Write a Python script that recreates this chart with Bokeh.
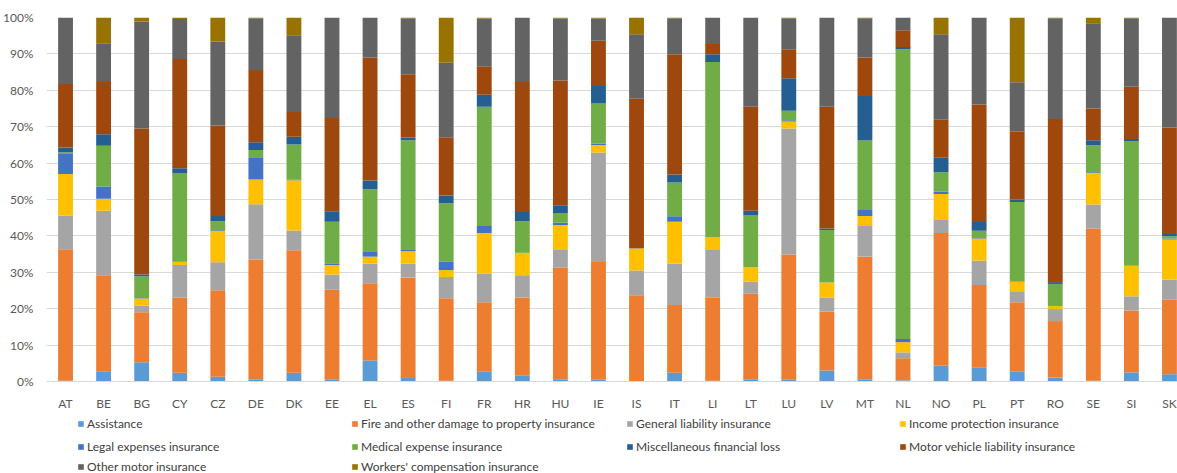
from bokeh.plotting import figure
from bokeh.models import (ColumnDataSource, Range1d, FixedTicker, NumeralTickFormatter,
                          Legend, LegendItem)
from bokeh.embed import file_html
from bokeh.resources import INLINE

countries = ["AT", "BE", "BG", "CY", "CZ", "DE", "DK", "EE", "EL", "ES", "FI", "FR", "HR", "HU", "IE",
             "IS", "IT", "LI", "LT", "LU", "LV", "MT", "NL", "NO", "PL", "PT", "RO", "SE", "SI", "SK"]

series_names = ["Assistance", "Fire and other damage to property insurance", "General liability insurance",
                "Income protection insurance", "Legal expenses insurance", "Medical expense insurance",
                "Miscellaneous financial loss", "Motor vehicle liability insurance", "Other motor insurance",
                "Workers' compensation insurance"]

assistance = [0.2, 2.8, 5.3, 2.4, 1.3, 0.5, 2.4, 0.5, 5.8, 1.2, 0.2, 2.7, 1.6, 0.5, 0.6,
              0.0, 2.4, 0.2, 0.5, 0.5, 3.0, 0.5, 0.3, 4.3, 3.8, 2.7, 1.1, 0.2, 2.5, 2.0]
fire = [36.1, 26.4, 13.7, 20.6, 23.8, 33.0, 33.6, 24.7, 21.2, 27.4, 22.7, 19.1, 21.5, 30.8, 32.2,
        23.7, 18.6, 22.8, 23.6, 34.4, 16.2, 33.8, 6.1, 36.5, 22.7, 19.1, 15.5, 41.8, 17.0, 20.5]
general = [9.3, 17.7, 1.9, 9.0, 7.7, 15.2, 5.4, 4.2, 5.4, 3.8, 5.8, 7.9, 6.1, 5.0, 30.1,
           6.8, 11.4, 13.3, 3.3, 34.6, 3.9, 8.4, 1.6, 3.6, 6.7, 3.0, 3.3, 6.6, 3.9, 5.5]
income = [11.4, 3.3, 1.8, 0.8, 8.6, 6.8, 13.8, 2.6, 1.9, 3.4, 1.9, 11.1, 6.1, 6.7, 2.1,
          6.0, 11.5, 3.3, 4.0, 1.9, 4.1, 2.8, 2.8, 7.1, 6.1, 2.6, 0.8, 8.7, 8.4, 11.0]
legal = [5.7, 3.4, 0.1, 0.1, 0.2, 6.1, 0.2, 0.3, 1.3, 0.5, 2.4, 1.9, 0.1, 0.6, 0.4,
         0.0, 1.5, 0.0, 0.0, 0.4, 0.0, 1.6, 0.9, 0.7, 0.1, 0.1, 0.0, 0.2, 0.0, 0.3]
medical = [0.3, 11.2, 6.1, 24.4, 2.5, 2.0, 9.6, 11.6, 17.2, 30.0, 16.0, 32.8, 8.6, 2.7, 11.0,
           0.1, 9.3, 48.2, 14.2, 2.6, 14.4, 19.1, 79.6, 5.3, 2.0, 21.8, 6.1, 7.4, 34.3, 0.6]
misc = [1.3, 3.1, 0.5, 1.3, 1.4, 2.1, 2.1, 2.9, 2.4, 0.7, 2.1, 3.3, 2.6, 2.1, 4.8,
        0.0, 2.2, 2.1, 1.3, 8.9, 0.4, 12.2, 0.6, 4.0, 2.4, 0.7, 0.5, 1.4, 0.5, 0.6]
motor_liab = [17.4, 14.4, 40.1, 30.0, 24.9, 19.9, 6.8, 25.6, 33.8, 17.4, 16.0, 7.8, 35.7, 34.3, 12.4,
              41.1, 33.0, 2.8, 28.6, 8.0, 33.5, 10.6, 4.6, 10.4, 32.3, 18.6, 44.8, 8.7, 14.4, 29.3]
other_motor = [18.3, 10.6, 29.4, 11.0, 23.1, 14.2, 21.0, 27.6, 11.0, 15.4, 20.5, 13.1, 17.7, 17.0, 6.1,
               17.7, 9.9, 7.3, 24.5, 8.5, 24.5, 10.8, 3.5, 23.5, 23.9, 13.6, 27.7, 23.4, 18.8, 30.2]
workers = [0.0, 7.1, 1.1, 0.4, 6.6, 0.2, 4.9, 0.0, 0.0, 0.2, 12.4, 0.3, 0.0, 0.3, 0.3,
           4.6, 0.2, 0.0, 0.0, 0.2, 0.0, 0.2, 0.0, 4.6, 0.0, 17.8, 0.2, 1.6, 0.2, 0.0]

colors = ["#5B9BD5", "#ED7D31", "#A5A5A5", "#FFC000", "#4472C4",
          "#70AD47", "#255E91", "#9E480E", "#636363", "#997300"]

series = [assistance, fire, general, income, legal, medical, misc, motor_liab, other_motor, workers]
totals = [sum(s[i] for s in series) for i in range(len(countries))]
data = {"x": list(range(len(countries)))}
keys = ["s%d" % k for k in range(len(series))]
for k, vals in zip(keys, series):
    data[k] = [v / t for v, t in zip(vals, totals)]
source = ColumnDataSource(data)

FONT = "Lato"
W, H = 1177, 473
TOP = 17                # px above the 100% line
LEFT = 45               # px left of the plot frame
PX_PER_UNIT = 364       # 0% .. 100% height in px
CAT_PX = 38.1           # px per category
below_px = H - TOP - PX_PER_UNIT
x_end = -0.5 + (W - LEFT) / CAT_PX

p = figure(width=W, height=H, output_backend="svg", toolbar_location=None,
           x_range=Range1d(-0.5, x_end), y_range=Range1d(-below_px / PX_PER_UNIT, 1),
           min_border_left=LEFT, min_border_right=0, min_border_top=TOP, min_border_bottom=0)
p.outline_line_color = None
p.background_fill_color = "white"

renderers = p.vbar_stack(keys, x="x", width=0.39, fill_color=colors, line_color=None, source=source)

p.xaxis.fixed_location = 0
p.xaxis.ticker = FixedTicker(ticks=list(range(len(countries))))
p.xaxis.major_label_overrides = {i: c for i, c in enumerate(countries)}
p.yaxis.ticker = FixedTicker(ticks=[i / 10 for i in range(11)])
p.yaxis.formatter = NumeralTickFormatter(format="0%")
for ax in (p.xaxis, p.yaxis):
    ax.major_tick_line_color = None
    ax.minor_tick_line_color = None
    ax.major_label_text_font = FONT
    ax.major_label_text_font_size = "12px"
    ax.major_label_text_color = "#595959"
p.xaxis.axis_line_color = "#D9D9D9"
p.yaxis.axis_line_color = None
p.xaxis.major_label_standoff = 8
p.yaxis.major_label_standoff = 7
p.xgrid.grid_line_color = None
p.ygrid.grid_line_color = "#D9D9D9"

# legend: one single-item legend per entry, in 4 columns x 3 rows below the axis
text_x = [86, 360, 635, 908]     # x of label text start
row_y = [423, 446, 466]          # y of row centre
for idx, (name, r) in enumerate(zip(series_names, renderers)):
    row, col = divmod(idx, 4)
    lg = Legend(items=[LegendItem(label=name, renderers=[r])],
                location=(text_x[col] - 10 - LEFT, H - row_y[row] - 8),
                glyph_width=7, glyph_height=7, label_standoff=3, padding=0, margin=0, spacing=0,
                label_height=16, border_line_color=None, background_fill_alpha=0,
                label_text_font=FONT, label_text_font_size="12px", label_text_color="#404040")
    p.add_layout(lg, "center")

open("out.html", "w").write(file_html(p, INLINE))
